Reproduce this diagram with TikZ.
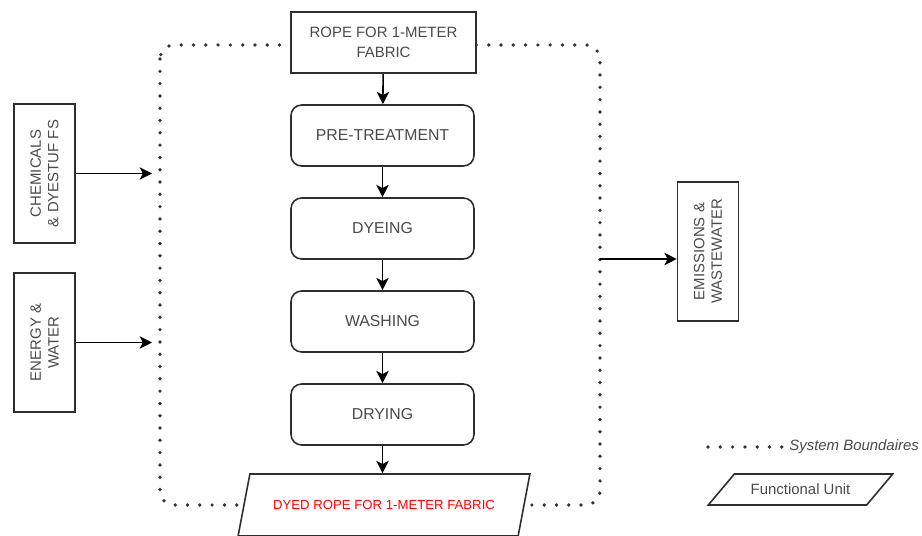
\documentclass[tikz,border=0pt]{standalone}
\usepackage[rgb]{xcolor}
\usepackage{fontspec}
\setmainfont{Liberation Sans}
\usepackage{tikz}
\usetikzlibrary{arrows.meta,shapes.geometric}

\definecolor{txtgrey}{HTML}{4A4A4A}
\definecolor{linegrey}{HTML}{2E2E2E}

\tikzset{
  stepbox/.style={draw=linegrey, line width=0.9pt, fill=white, rounded corners=6pt,
    minimum width=3.66cm, minimum height=1.22cm, text=txtgrey, font=\fontsize{9}{10.5}\selectfont},
  inbox/.style={draw=linegrey, line width=0.9pt, fill=white, rotate=90, align=center,
    minimum width=2.78cm, minimum height=1.22cm, text=txtgrey, font=\fontsize{8.5}{10}\selectfont},
  unitbox/.style={draw=linegrey, line width=0.9pt, fill=white, trapezium, trapezium stretches=true},
  flow/.style={-{Stealth[length=7pt,width=7pt,inset=1.8pt]}, line width=0.9pt, draw=black},
  boundary/.style={line width=2.1pt, line cap=round, dash pattern=on 0pt off 7pt, draw=black!80}
}

\begin{document}
\begin{tikzpicture}[x=0.02cm, y=-0.02cm]

\useasboundingbox[fill=white] (0,0) rectangle (922,536);

% System boundary
\draw[boundary, rounded corners=8pt] (160,45) rectangle (600,505);

%
% Process chain
%
\node[draw=linegrey, line width=0.9pt, fill=white, minimum width=3.7cm, minimum height=1.22cm,
  align=center, text=txtgrey, font=\fontsize{8.5}{11}\selectfont] (rope) at (383.5,42.5) {ROPE FOR 1-METER\\FABRIC};

\node[stepbox] (pretreat) at (382.5,135.5) {PRE-TREATMENT};
\node[stepbox] (dyeing) at (382.5,228.5) {DYEING};
\node[stepbox] (washing) at (382.5,321.5) {WASHING};
\node[stepbox] (drying) at (382.5,414.5) {DRYING};

\node[unitbox, trapezium left angle=64, trapezium right angle=116,
  minimum width=5.84cm, minimum height=1.24cm, text=red,
  font=\fontsize{7.5}{9}\selectfont] (dyedrope) at (384,505) {DYED ROPE FOR 1-METER FABRIC};

\draw[flow] (rope) -- (pretreat);
\draw[flow] (pretreat) -- (dyeing);
\draw[flow] (dyeing) -- (washing);
\draw[flow] (washing) -- (drying);
\draw[flow] (drying) -- (drying |- dyedrope.north);

%
% Inputs
%
\node[inbox] (chem) at (44.5,173.5) {CHEMICALS\\\& DYESTUF FS};
\node[inbox] (energy) at (44.5,342.5) {ENERGY \&\\WATER};

\coordinate (chemin) at (152,174);
\coordinate (energyin) at (152,343);

\draw[flow] (chem.south) -- (chemin |- chem.south);
\draw[flow] (energy.south) -- (energyin |- energy.south);

%
% Outputs
%
\node[inbox] (emis) at (708,251.5) {EMISSIONS \&\\WASTEWATER};

\coordinate (emisout) at (600,259);

\draw[flow] (emisout) -- (emis.north |- emisout);

%
% Legend
%
\coordinate (legdot) at (708,447);
\node[anchor=west, inner sep=0pt, text=txtgrey, font=\fontsize{8.5}{10}\selectfont\itshape]
  (legtext) at (789,447) {System Boundaires};
\draw[boundary] (legdot) -- (legtext.west);

\node[unitbox, trapezium left angle=46, trapezium right angle=134,
  minimum width=3.7cm, minimum height=0.62cm, text=txtgrey,
  font=\fontsize{8.5}{10}\selectfont] (legunit) at (800.5,489.5) {Functional Unit};

\end{tikzpicture}
\end{document}
